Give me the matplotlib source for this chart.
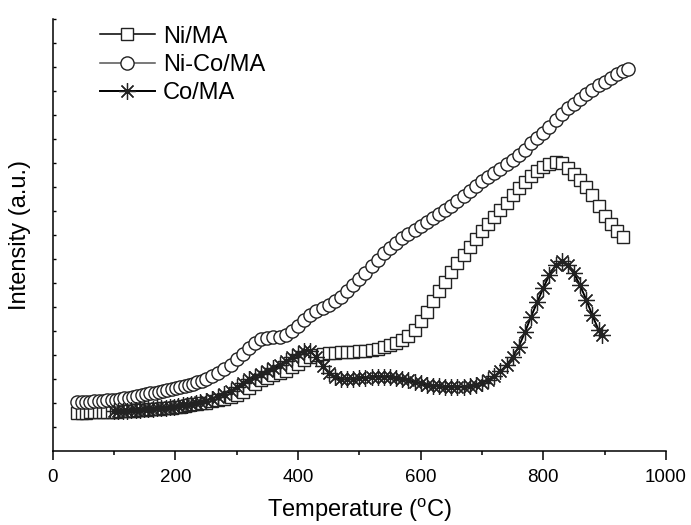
import matplotlib
matplotlib.use("Agg")
import matplotlib.pyplot as plt

plt.rcParams['font.family'] = ['Liberation Sans', 'DejaVu Sans']
plt.rcParams['mathtext.fontset'] = 'custom'
plt.rcParams['mathtext.rm'] = 'Liberation Sans'

# ---- data (intensity in arbitrary units) ----
t_ni = [40, 47, 54, 61, 68, 75, 82, 89, 96, 103, 110, 117, 124, 131, 138, 145, 152,
        159, 166, 173, 180, 187, 194, 201, 208, 215, 222, 229, 236, 243, 250,
        260, 270, 280, 290, 300, 310, 320, 330, 340,
        350, 360, 370, 380, 390, 400, 410, 420, 430, 440, 450, 460, 470, 480, 490,
        500, 510, 520, 530, 540, 550, 560, 570, 580, 590, 600, 610, 620, 630, 640,
        650, 660, 670, 680, 690, 700, 710, 720, 730, 740, 750, 760, 770, 780, 790,
        800, 810, 820, 830, 840, 850, 860, 870, 880, 890, 900, 910, 920, 930]
i_ni = [1.60, 1.60, 1.60, 1.61, 1.62, 1.62, 1.62, 1.63, 1.64, 1.64, 1.65, 1.66, 1.67,
        1.68, 1.70, 1.71, 1.72, 1.74, 1.75, 1.77, 1.78, 1.79, 1.81, 1.83, 1.85, 1.88,
        1.91, 1.94, 1.96, 1.99, 2.02,
        2.07, 2.12, 2.18, 2.24,
        2.32, 2.45, 2.62, 2.80, 2.95, 3.05, 3.15, 3.25, 3.35, 3.48, 3.62, 3.78, 3.90,
        3.98, 4.05, 4.08, 4.10, 4.11, 4.12, 4.13, 4.15, 4.18, 4.22, 4.27, 4.33, 4.40,
        4.50, 4.63, 4.80, 5.05, 5.40, 5.80, 6.25, 6.65, 7.05, 7.45, 7.82, 8.15, 8.50,
        8.85, 9.15, 9.45, 9.75, 10.05, 10.35, 10.65, 10.95, 11.20, 11.45, 11.65, 11.85,
        11.98, 12.04, 12.00, 11.80, 11.55, 11.30, 11.02, 10.65, 10.20, 9.80, 9.45,
        9.15, 8.90]

t_nico = [40, 47, 54, 61, 68, 75, 82, 89, 96, 103, 110, 117, 124, 131, 138, 145, 152,
          159, 166, 173, 180, 187, 194, 201, 208, 215, 222, 229, 236, 243, 250,
          260, 270, 280, 290, 300, 310, 320, 330, 340,
          350, 360, 370, 380, 390, 400, 410, 420, 430, 440, 450, 460, 470, 480, 490,
          500, 510, 520, 530, 540, 550, 560, 570, 580, 590, 600, 610, 620, 630, 640,
          650, 660, 670, 680, 690, 700, 710, 720, 730, 740, 750, 760, 770, 780, 790,
          800, 810, 820, 830, 840, 850, 860, 870, 880, 890, 900, 910, 920, 930, 938]
i_nico = [2.04, 2.05, 2.05, 2.06, 2.07, 2.08, 2.09, 2.11, 2.12, 2.14, 2.16, 2.19, 2.22,
          2.25, 2.29, 2.32, 2.36, 2.40, 2.43, 2.47, 2.50, 2.54, 2.58, 2.62, 2.67, 2.71,
          2.75, 2.81, 2.87, 2.93, 3.00,
          3.12, 3.25, 3.40, 3.60,
          3.82, 4.05, 4.30, 4.52, 4.66, 4.72, 4.74, 4.76, 4.85, 5.00, 5.22, 5.45, 5.65,
          5.82, 5.97, 6.10, 6.25, 6.42, 6.65, 6.90, 7.15, 7.42, 7.70, 7.98, 8.25, 8.48,
          8.68, 8.88, 9.06, 9.22, 9.38, 9.55, 9.72, 9.88, 10.05, 10.22, 10.42, 10.62,
          10.83, 11.04, 11.25, 11.43, 11.60, 11.77, 11.95, 12.12, 12.32, 12.55, 12.82,
          13.05, 13.25, 13.50, 13.78, 14.05, 14.28, 14.48, 14.68, 14.88, 15.06, 15.24,
          15.40, 15.55, 15.70, 15.82, 15.92]

t_co = [100, 107, 114, 121, 128, 135, 142, 149, 156, 163, 170, 177, 184, 191, 198,
        205, 212, 219, 226, 233, 240,
        250, 260, 270, 280, 290, 300, 310, 320, 330, 340, 350, 360, 370, 380, 390,
        400, 410, 420, 430, 440, 450, 460, 470, 480, 490, 500, 510, 520, 530, 540,
        550, 560, 570, 580, 590, 600, 610, 620, 630, 640, 650, 660, 670, 680, 690,
        700, 710, 720, 730, 740, 750, 760, 770, 780, 790, 800, 810, 820, 830, 840,
        850, 860, 870, 880, 890, 896]
i_co = [1.66, 1.67, 1.67, 1.68, 1.70, 1.71, 1.72, 1.74, 1.75, 1.77, 1.78, 1.79, 1.81,
        1.82, 1.84, 1.87, 1.90, 1.93, 1.96, 2.00, 2.04,
        2.10, 2.18, 2.27, 2.37, 2.50, 2.65, 2.85, 3.00, 3.10, 3.20, 3.32,
        3.45, 3.60, 3.75, 3.90, 4.05, 4.18, 4.15, 3.90, 3.55, 3.25, 3.08, 3.00, 2.98,
        3.00, 3.03, 3.06, 3.08, 3.09, 3.10, 3.09, 3.06, 3.02, 2.96, 2.89, 2.82, 2.76,
        2.72, 2.69, 2.67, 2.66, 2.66, 2.67, 2.70, 2.76, 2.84, 2.96, 3.12, 3.32, 3.58,
        3.92, 4.35, 4.95, 5.60, 6.20, 6.80, 7.35, 7.75, 7.90, 7.75, 7.40, 6.90, 6.30,
        5.65, 5.05, 4.83]

labels = ['Ni/MA', 'Ni-Co/MA', 'Co/MA']
x_ticks = [0, 200, 400, 600, 800, 1000]
x_minor = [100, 300, 500, 700, 900]
y_ticks = list(range(1, 19))

fig = plt.figure(figsize=(6.91, 5.25), dpi=100)
ax = fig.add_axes([0.0763, 0.141, 0.8875, 0.8225])

edge = '#222222'
ax.plot(t_ni, i_ni, '-', color='black', lw=1.1, marker='s', ms=9, mfc='white',
        mec=edge, mew=1.0, label=labels[0])
ax.plot(t_nico, i_nico, '-', color='#555555', lw=1.1, marker='o', ms=9.5, mfc='white',
        mec=edge, mew=1.0, label=labels[1])
ax.plot(t_co, i_co, '-', color='black', lw=1.4, marker=(8, 2, 0), ms=12,
        mec=edge, mew=0.9, label=labels[2])

ax.set_xlim(0, 1000)
ax.set_ylim(0, 18)
ax.spines['top'].set_visible(False)
ax.spines['right'].set_visible(False)
for s in ('left', 'bottom'):
    ax.spines[s].set_linewidth(1.1)

ax.set_xticks(x_ticks)
ax.set_xticks(x_minor, minor=True)
ax.tick_params(axis='x', which='major', direction='out', length=6.5, width=1.1,
               labelsize=13.5, pad=6.5)
ax.tick_params(axis='x', which='minor', direction='out', length=3, width=1.1)
ax.set_yticks(y_ticks)
ax.set_yticklabels([])
ax.tick_params(axis='y', which='major', direction='in', length=2.2, width=1.0)

ax.set_xlabel('Temperature ($\\mathregular{^o}$C)', fontsize=17)
ax.set_ylabel('Intensity (a.u.)', fontsize=17)
ax.xaxis.set_label_coords(0.5, -0.107)
ax.yaxis.set_label_coords(-0.035, 0.5)

ax.legend(loc='upper left', bbox_to_anchor=(0.077, 0.985), frameon=False,
          fontsize=17, borderpad=0, borderaxespad=0, labelspacing=0.27,
          handlelength=2.33, handletextpad=0.35)

fig.savefig('out.png', dpi=100)
